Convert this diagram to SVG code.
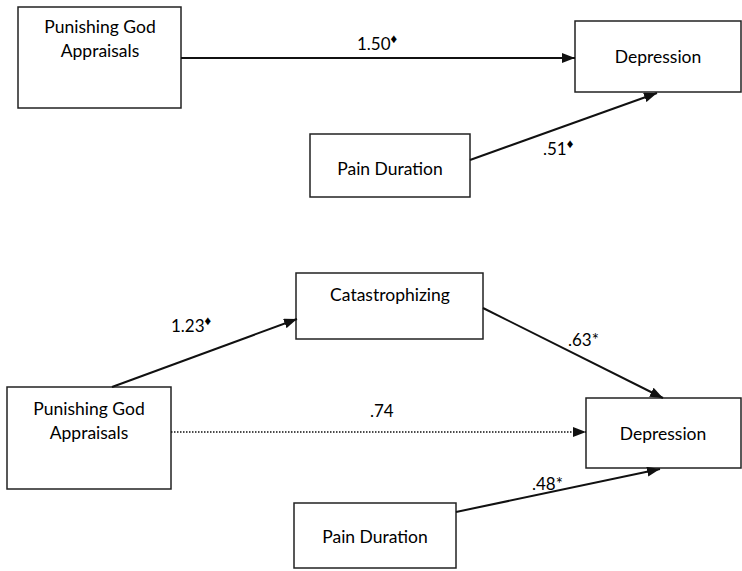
<svg xmlns="http://www.w3.org/2000/svg" width="742" height="571" viewBox="0 0 742 571">
<style>
.box{fill:#fff;stroke:#222;stroke-width:1.5}
.t{font-family:Lato,"Open Sans","Liberation Sans",sans-serif;font-size:17.5px;fill:#000;text-anchor:middle}
.lbl{font-family:Lato,"Open Sans","Liberation Sans",sans-serif;font-size:17px;fill:#000}
.sup{font-size:13px}
.c{stroke:#111;stroke-width:2;fill:none;marker-end:url(#ah)}
.d{stroke:#111;stroke-width:1.6;fill:none;stroke-dasharray:1.5 1.5;marker-end:url(#ah)}
</style>
<defs>
<marker id="ah" viewBox="0 0 13 10" refX="13" refY="5" markerWidth="13" markerHeight="10" markerUnits="userSpaceOnUse" orient="auto">
<path d="M0,0 L13,5 L0,10 Z" fill="#111"/>
</marker>
</defs>
<g id="pga1"><rect class="box" x="18" y="7" width="163" height="101"/><text class="t" x="100" y="33">Punishing God</text><text class="t" x="100" y="57">Appraisals</text></g>
<g id="dep1"><rect class="box" x="575" y="21" width="166" height="71"/><text class="t" x="658" y="63">Depression</text></g>
<g id="pain1"><rect class="box" x="310" y="134" width="160" height="63"/><text class="t" x="390" y="175">Pain Duration</text></g>
<g id="cat"><rect class="box" x="296" y="273" width="187" height="66"/><text class="t" x="390" y="301">Catastrophizing</text></g>
<g id="pga2"><rect class="box" x="7" y="387" width="164" height="102"/><text class="t" x="89" y="415">Punishing God</text><text class="t" x="89" y="439">Appraisals</text></g>
<g id="dep2"><rect class="box" x="586" y="398" width="155" height="70"/><text class="t" x="663" y="440">Depression</text></g>
<g id="pain2"><rect class="box" x="294" y="503" width="162" height="65"/><text class="t" x="375" y="543">Pain Duration</text></g>
<g id="connectors">
<line class="c" x1="181" y1="58" x2="575" y2="58"/>
<line class="c" x1="470" y1="160" x2="657" y2="93"/>
<line class="c" x1="112" y1="387" x2="297" y2="319"/>
<line class="c" x1="483" y1="308" x2="663" y2="398"/>
<line class="d" x1="171" y1="432" x2="586" y2="432"/>
<line class="c" x1="456" y1="512" x2="660" y2="469"/>
<text class="lbl" x="357" y="50">1.50<tspan class="sup" dy="-7">♦</tspan></text>
<text class="lbl" x="543" y="155">.51<tspan class="sup" dy="-7">♦</tspan></text>
<text class="lbl" x="171" y="332">1.23<tspan class="sup" dy="-7">♦</tspan></text>
<text class="lbl" x="568" y="346">.63*</text>
<text class="lbl" x="370" y="417">.74</text>
<text class="lbl" x="532" y="490">.48*</text>
</g>
</svg>
